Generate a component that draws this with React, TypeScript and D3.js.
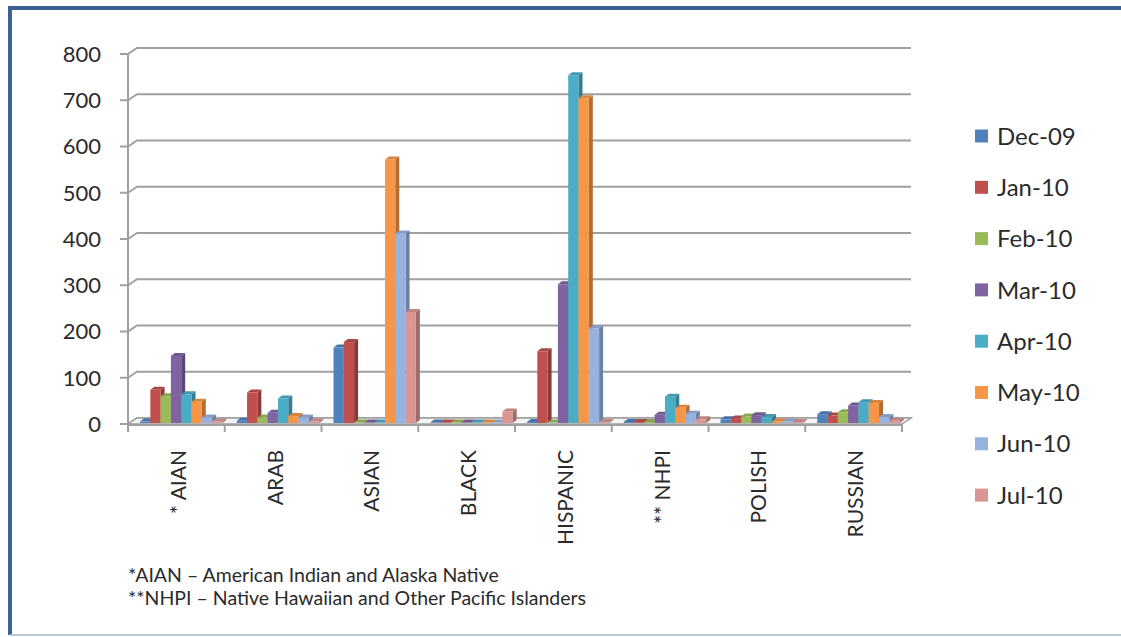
import React from "react";
import * as d3 from "d3";

// Interpreter requests by language group, monthly
const categories = ["* AIAN", "ARAB", "ASIAN", "BLACK", "HISPANIC", "** NHPI", "POLISH", "RUSSIAN"];
const months = ["Dec-09", "Jan-10", "Feb-10", "Mar-10", "Apr-10", "May-10", "Jun-10", "Jul-10"];

const dec09 = [3, 5, 163, 1, 2, 2, 8, 19];
const jan10 = [72, 66, 175, 1, 155, 2, 10, 16];
const feb10 = [58, 12, 1, 1, 1, 2, 14, 23];
const mar10 = [145, 22, 1, 1, 300, 18, 17, 38];
const apr10 = [62, 53, 1, 1, 752, 57, 13, 45];
const may10 = [46, 15, 570, 1, 702, 33, 3, 43];
const jun10 = [12, 12, 410, 1, 205, 20, 3, 13];
const jul10 = [3, 3, 240, 25, 2, 8, 2, 5];

const seriesValues = [dec09, jan10, feb10, mar10, apr10, may10, jun10, jul10];
const colors = ["#4F81BD", "#C0504D", "#9BBB59", "#8064A2", "#4BACC6", "#F79646", "#97B2DE", "#DA9694"];

const yTicks = [0, 100, 200, 300, 400, 500, 600, 700, 800];

const footnotes = [
  "*AIAN – American Indian and Alaska Native",
  "**NHPI – Native Hawaiian and Other Pacific Islanders",
];

const W = 1121;
const H = 637;
const FONT = "Lato, 'Open Sans', sans-serif";
const TEXT = "#2b2b2b";
const GRID = "#a0a0a0";

// chart geometry (front plane + back wall offset)
const x0 = 128;
const x1 = 902;
const yBase = 424;
const yTop = 54;
const wallDx = 9;
const wallDy = -6;
const barDx = 4;
const barDy = -3;

export default function App() {
  const y = d3.scaleLinear().domain([0, 800]).range([yBase, yTop]);
  const x = d3.scaleBand<string>().domain(categories).range([x0, x1]).padding(0);
  const pitch = 10.3;
  const inner = d3
    .scaleBand<string>()
    .domain(months)
    .range([12, 12 + pitch * months.length])
    .padding(0);

  const boundaries = d3.range(categories.length + 1).map((i) => x0 + i * x.bandwidth());

  const bars: React.ReactNode[] = [];
  categories.forEach((cat, ci) => {
    months.forEach((m, si) => {
      const v = seriesValues[si][ci];
      const bx = (x(cat) as number) + (inner(m) as number);
      const bw = inner.bandwidth();
      const b0 = y(0) - 1;
      const bt = y(v) - 1;
      const c = d3.color(colors[si]) as d3.RGBColor;
      const side = c.darker(0.9).formatHex();
      const top = c.darker(0.35).formatHex();
      bars.push(
        <g key={`${ci}-${si}`}>
          <polygon
            points={`${bx + bw},${b0} ${bx + bw + barDx},${b0 + barDy} ${bx + bw + barDx},${bt + barDy} ${bx + bw},${bt}`}
            fill={side}
          />
          <polygon
            points={`${bx},${bt} ${bx + barDx},${bt + barDy} ${bx + bw + barDx},${bt + barDy} ${bx + bw},${bt}`}
            fill={top}
          />
          <rect x={bx} y={bt} width={bw} height={Math.max(0.5, b0 - bt)} fill={colors[si]} />
        </g>
      );
    });
  });

  return (
    <svg
      width={W}
      height={H}
      viewBox={`0 0 ${W} ${H}`}
      style={{ position: "absolute", left: 0, top: 0, background: "#fff" }}
    >
      <rect x={0} y={0} width={W} height={H} fill="#fff" />
      {/* frame */}
      <line x1={10} y1={8} x2={W} y2={8} stroke="#3d6194" strokeWidth={4} />
      <line x1={10} y1={6} x2={10} y2={635} stroke="#3d6194" strokeWidth={4} />
      <line x1={10} y1={635} x2={W} y2={635} stroke="#b9c8dc" strokeWidth={2} />

      {/* back wall gridlines with side-wall connectors */}
      {yTicks.map((t) => (
        <g key={t}>
          <polyline
            points={`${x0 - 8},${y(t)} ${x0},${y(t)} ${x0 + wallDx},${y(t) + wallDy} ${x1 + wallDx},${y(t) + wallDy}`}
            fill="none"
            stroke={GRID}
            strokeWidth={2}
          />
          <text
            x={101}
            y={y(t)}
            dy="0.36em"
            textAnchor="end"
            fontFamily={FONT}
            fontSize={22}
            fill={TEXT}
          >
            {t}
          </text>
        </g>
      ))}
      <line x1={x0} y1={y(800)} x2={x0} y2={yBase + 1} stroke={GRID} strokeWidth={2} />

      {/* floor */}
      <polygon
        points={`${x0},${yBase} ${x1},${yBase} ${x1 + wallDx},${yBase + wallDy} ${x0 + wallDx},${yBase + wallDy}`}
        fill="#f4f4f4"
        stroke={GRID}
        strokeWidth={1.5}
      />

      {bars}

      {/* category axis */}
      <line x1={x0} y1={yBase + 1} x2={x1} y2={yBase + 1} stroke={GRID} strokeWidth={2} />
      {boundaries.map((bx, i) => (
        <line key={i} x1={bx} y1={yBase} x2={bx} y2={yBase + 8} stroke={GRID} strokeWidth={2} />
      ))}
      {categories.map((cat) => {
        const cx = (x(cat) as number) + x.bandwidth() / 2 + 2;
        return (
          <text
            key={cat}
            transform={`translate(${cx},450) rotate(-90)`}
            dy="0.36em"
            textAnchor="end"
            fontFamily={FONT}
            fontSize={21}
            fill={TEXT}
          >
            {cat}
          </text>
        );
      })}

      {/* legend */}
      {months.map((m, i) => {
        const ly = 136 + i * 51.3;
        return (
          <g key={m}>
            <rect x={975} y={ly - 6.5} width={13} height={13} fill={colors[i]} />
            <text x={997} y={ly} dy="0.36em" fontFamily={FONT} fontSize={24} fill={TEXT}>
              {m}
            </text>
          </g>
        );
      })}

      {/* footnotes */}
      {footnotes.map((f, i) => (
        <text key={i} x={128} y={582 + i * 23} fontFamily={FONT} fontSize={19.5} fill={TEXT}>
          {f}
        </text>
      ))}
    </svg>
  );
}
